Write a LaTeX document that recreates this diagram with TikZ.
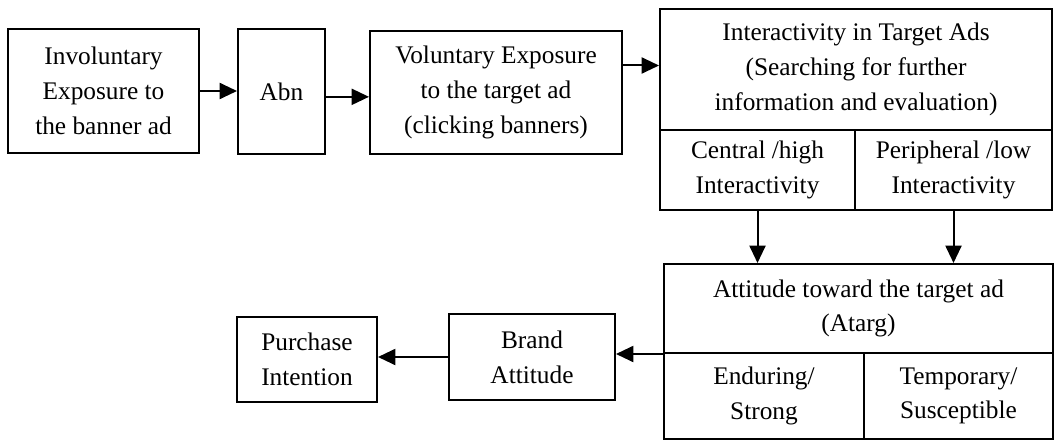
\documentclass[tikz,border=0pt]{standalone}
\usepackage{fontspec}
\setmainfont{Liberation Serif}
\usetikzlibrary{arrows.meta}

\begin{document}
\begin{tikzpicture}[x=0.75pt,y=-0.75pt,
  box/.style 2 args={draw, line width=1.5pt, inner sep=0pt, align=center,
    minimum width=#1*0.75pt, minimum height=#2*0.75pt,
    font={\fontsize{19}{26}\selectfont}},
  link/.style={line width=1.5pt, -{Triangle[length=13pt,width=12pt]}}]
\useasboundingbox (0,0) rectangle (1056,442);
% top row
\node[box={191}{124}] (invol) at (103.5,91) {Involuntary\\Exposure to\\the banner ad};
\node[box={87}{125}] (abn) at (281.5,91.5) {Abn};
\node[box={252}{123}] (volun) at (496,92.5) {Voluntary Exposure\\to the target ad\\(clicking banners)};
\node[box={392}{121}] (inter) at (856,69.5) {Interactivity in Target Ads\\(Searching for further\\information and evaluation)};
\node[box={195}{80}] (central) at (757.5,170) {Central /high\\Interactivity};
\node[box={197}{80}] (periph) at (953.5,170) {Peripheral /low\\Interactivity};
% bottom row
\node[box={389}{89}] (att) at (858.5,308.5) {Attitude toward the target ad\\(Atarg)};
\node[box={200}{86}] (endur) at (764,396) {Enduring/\\Strong};
\node[box={189}{86}] (temp) at (958.5,396) {Temporary/\\Susceptible};
\node[box={166}{86}] (brand) at (532,357) {Brand\\Attitude};
\node[box={140}{85}] (purch) at (307,359.5) {Purchase\\Intention};
% arrows
\draw[link] (invol.east) -- (invol.east -| abn.west);
\draw[link] ([yshift=-4pt]abn.east) -- ([yshift=-4pt]abn.east -| volun.west);
\draw[link] ([yshift=3pt]volun.east |- inter.west) -- ([yshift=3pt]inter.west);
\draw[link] (central.south) -- (central.south |- att.north);
\draw[link] (periph.south) -- (periph.south |- att.north);
\draw[link] (att.south west) -- (att.south west -| brand.east);
\draw[link] (brand.west) -- (brand.west -| purch.east);
\end{tikzpicture}
\end{document}
